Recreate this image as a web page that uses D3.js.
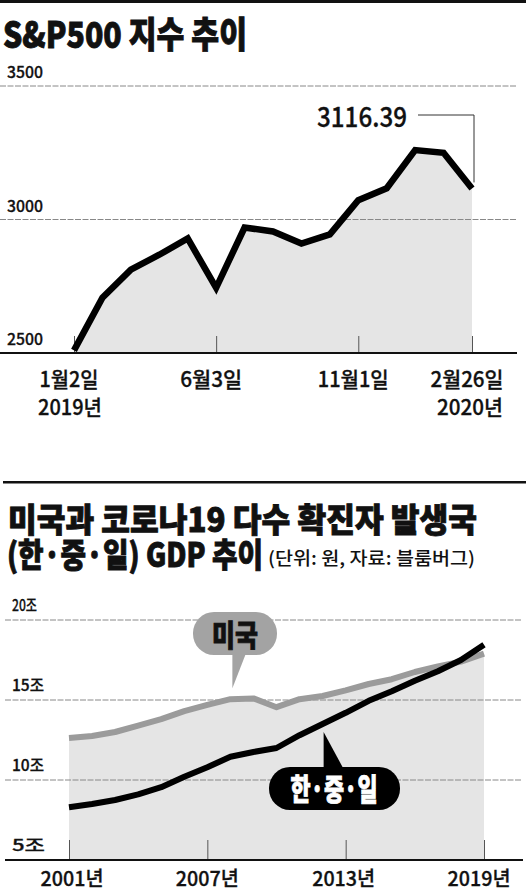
<!DOCTYPE html>
<html>
<head>
<meta charset="utf-8">
<script src="https://cdn.jsdelivr.net/npm/d3@7"></script>
<style>
  body { margin: 0; background: #fff; }
  svg { display: block; font-family: "Noto Sans CJK KR", "Noto Sans", sans-serif; }
</style>
</head>
<body>
<div id="chart"></div>
<script>
// ---- S&P500 data ----
const spDates = ["2019-01-02","2019-02-01","2019-03-01","2019-04-01","2019-05-01","2019-06-03",
                 "2019-07-01","2019-08-01","2019-09-03","2019-10-01","2019-11-01","2019-12-02",
                 "2020-01-02","2020-02-03","2020-02-26"]
const spValues = [2510, 2707, 2812, 2868, 2929, 2744, 2970, 2955, 2910, 2944, 3072, 3117, 3260, 3250, 3116.39]
const spTicks = ["2019-01-02","2019-06-03","2019-11-01","2020-02-26"]
const spTickLabels = ["1월2일","6월3일","11월1일","2월26일"]
const spYearLabels = ["2019년","","","2020년"]
const spYTicks = [2500, 3000, 3500]

// ---- GDP data (조 원) ----
const years = d3.range(2001, 2020)
const usGdp  = [12.63, 12.75, 13.0, 13.4, 13.8, 14.3, 14.7, 15.05, 15.1, 14.55, 15.05, 15.25, 15.6, 16.0, 16.3, 16.75, 17.1, 17.4, 17.9]
const cjkGdp = [8.3, 8.5, 8.75, 9.1, 9.55, 10.2, 10.8, 11.45, 11.75, 12.0, 12.8, 13.5, 14.2, 14.95, 15.55, 16.2, 16.8, 17.5, 18.45]
const gdpTicks = [2001, 2007, 2013, 2019]
const gdpYTicks = [5, 10, 15, 20]

const W = 526, H = 891
const svg = d3.select("#chart").append("svg").attr("width", W).attr("height", H)

// text helper: condensed look via textLength
function label(g, s, x, y, size, len, weight, anchor, thick) {
  const t = g.append("text")
    .attr("x", x).attr("y", y)
    .attr("font-size", size + "px")
    .attr("font-weight", weight || 500)
    .attr("text-anchor", anchor || "start")
    .attr("fill", "#111")
    .text(s)
  if (len) t.attr("textLength", len).attr("lengthAdjust", "spacingAndGlyphs")
  if (thick) t.attr("stroke", "#111").attr("stroke-width", thick)
  return t
}

// ================= TOP: S&P500 =================
const gTop = svg.append("g")
svg.append("rect").attr("x", 0).attr("y", 0).attr("width", W).attr("height", 3).attr("fill", "#111")
label(gTop, "S&P500 지수 추이", 3, 48, 36, 244, 900, "start", 0.9)

const xSp = d3.scalePoint().domain(spDates).range([74, 472])
const ySp = d3.scaleLinear().domain([2500, 3500]).range([353, 86])

// fill
gTop.append("path")
  .datum(spValues)
  .attr("fill", "#e5e5e5")
  .attr("d", d3.area()
    .x((d, i) => xSp(spDates[i]))
    .y0(ySp(2500))
    .y1(d => ySp(d)))

// grid
gTop.selectAll(".grid").data(spYTicks.slice(1)).enter().append("line")
  .attr("x1", 0).attr("x2", 517)
  .attr("y1", d => ySp(d)).attr("y2", d => ySp(d))
  .attr("stroke", "#888").attr("stroke-width", 1).attr("stroke-dasharray", "6,1.5")

// y labels
spYTicks.forEach(v => label(gTop, String(v), 7, ySp(v) - 8, 16, 36, 500, "start", 0.3))

// ticks
const spAxis = gTop.append("g")
  .attr("transform", `translate(0,${ySp(2500)})`)
  .call(d3.axisTop(xSp).tickValues(spTicks).tickSize(17).tickFormat(""))
spAxis.select(".domain").remove()
spAxis.selectAll("line").attr("stroke", "#555").attr("stroke-width", 1)

gTop.append("line").attr("x1", 0).attr("x2", 517)
  .attr("y1", ySp(2500)).attr("y2", ySp(2500))
  .attr("stroke", "#111").attr("stroke-width", 2)

// line
gTop.append("path")
  .datum(spValues)
  .attr("fill", "none").attr("stroke", "#000").attr("stroke-width", 6.5)
  .attr("stroke-linejoin", "miter")
  .attr("d", d3.line().x((d, i) => xSp(spDates[i])).y(d => ySp(d)))

// x labels
const spLenMain = [59, 62, 71, 73]
spTicks.forEach((d, i) => {
  label(gTop, spTickLabels[i], xSp(d) - 5, 387, 21, spLenMain[i], 500, "middle", 0.3)
})
label(gTop, spYearLabels[0], 102, 415, 21, 64, 500, "end", 0.3)
label(gTop, spYearLabels[3], 503, 415, 21, 66, 500, "end", 0.3)

// annotation
const lastI = spValues.length - 1
const ax = xSp(spDates[lastI]), ay = ySp(spValues[lastI])
gTop.append("path")
  .attr("d", `M418,115 H${ax + 2} V${ay - 6}`)
  .attr("fill", "none").attr("stroke", "#333").attr("stroke-width", 1)
label(gTop, d3.format(".2f")(spValues[lastI]), 317, 127, 27, 90, 500, "start", 0.3)

// ================= BOTTOM: GDP =================
const gBot = svg.append("g")
svg.append("rect").attr("x", 3).attr("y", 481).attr("width", W - 3).attr("height", 2.5).attr("fill", "#111")
label(gBot, "미국과 코로나19 다수 확진자 발생국", 8, 532, 33, 469, 900, "start", 0.9)
label(gBot, "(한·중·일) GDP 추이", 7, 567, 33, 256, 900, "start", 0.9)
label(gBot, "(단위: 원, 자료: 블룸버그)", 268, 565, 18, 207, 500)

const xG = d3.scaleLinear().domain([2001, 2019]).range([69, 484])
const yG = d3.scaleLinear().domain([5, 20]).range([860, 620])

gBot.append("path")
  .datum(usGdp)
  .attr("fill", "#e5e5e5")
  .attr("d", d3.area()
    .x((d, i) => xG(years[i]))
    .y0(yG(5))
    .y1(d => yG(d)))

gBot.selectAll(".grid").data(gdpYTicks.slice(1)).enter().append("line")
  .attr("x1", 5).attr("x2", 522)
  .attr("y1", d => yG(d)).attr("y2", d => yG(d))
  .attr("stroke", "#888").attr("stroke-width", 1).attr("stroke-dasharray", "6,1.5")

const gLen = [33, 32, 32, 25]
gdpYTicks.forEach((v, i) => label(gBot, v + "조", 12, yG(v) - 9, 16, gLen[i], 500, "start", 0.3))

const gAxis = gBot.append("g")
  .attr("transform", `translate(0,${yG(5)})`)
  .call(d3.axisTop(xG).tickValues(gdpTicks).tickSize(20).tickFormat(""))
gAxis.select(".domain").remove()
gAxis.selectAll("line").attr("stroke", "#555").attr("stroke-width", 1)

gBot.append("line").attr("x1", 5).attr("x2", 523)
  .attr("y1", yG(5)).attr("y2", yG(5))
  .attr("stroke", "#111").attr("stroke-width", 2)

const gLine = d3.line().x((d, i) => xG(years[i])).y(d => yG(d))
gBot.append("path").datum(usGdp)
  .attr("fill", "none").attr("stroke", "#9b9b9b").attr("stroke-width", 6)
  .attr("stroke-linejoin", "round")
  .attr("d", gLine)
gBot.append("path").datum(cjkGdp)
  .attr("fill", "none").attr("stroke", "#000").attr("stroke-width", 6)
  .attr("stroke-linejoin", "round")
  .attr("d", gLine)

gdpTicks.forEach((d, i) => {
  label(gBot, d + "년", xG(d) + [3, 0, -2, -5][i], 886, 20, 63, 500, "middle", 0.3)
})

// callout: 미국
const usI = years.indexOf(2008)
const ux = xG(2008) + 2, uy = yG(usGdp[usI]) - 11
gBot.append("path")
  .attr("d", `M${ux},${uy} L${ux},${uy - 36} L${ux + 14},${uy - 36} Z`)
  .attr("fill", "#a3a3a3")
gBot.append("rect").attr("x", 193).attr("y", 612).attr("width", 84).attr("height", 43).attr("rx", 21)
  .attr("fill", "#a3a3a3")
label(gBot, "미국", 235, 646, 30, 46, 900, "middle", 0.8)

// callout: 한·중·일
const cI = years.indexOf(2012)
const cx = xG(2012) + 1, cy = yG(cjkGdp[cI]) + 8
gBot.append("path")
  .attr("d", `M${cx},${cy} L${cx},${cy + 37} L${cx + 20},${cy + 37} Z`)
  .attr("fill", "#000")
gBot.append("rect").attr("x", 269).attr("y", 767).attr("width", 131).attr("height", 43).attr("rx", 21)
  .attr("fill", "#000")
label(gBot, "한·중·일", 334, 800, 30, 87, 900, "middle", 0.8).attr("fill", "#fff").attr("stroke", "#fff")
</script>
</body>
</html>
